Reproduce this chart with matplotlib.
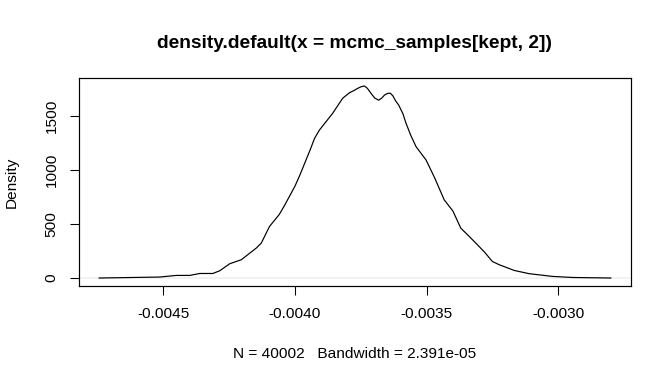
import numpy as np
from matplotlib import pyplot as plt

plt.rcParams['font.family'] = ['Liberation Sans', 'DejaVu Sans']

# density curve (x = sample value, y = density)
xs = [-0.004744, -0.004514, -0.004451, -0.004400, -0.004362, -0.004312,
      -0.004286, -0.004248, -0.004204, -0.004147, -0.004128, -0.004097,
      -0.004059, -0.004040, -0.004020, -0.004000, -0.003980, -0.003960,
      -0.003940, -0.003926, -0.003907, -0.003857, -0.003819, -0.003793,
      -0.003775, -0.003762, -0.003748, -0.003736, -0.003725, -0.003711,
      -0.003697, -0.003682, -0.003670, -0.003660, -0.003648, -0.003638,
      -0.003628, -0.003618, -0.003606, -0.003590, -0.003578, -0.003560,
      -0.003540, -0.003520, -0.003502, -0.003470, -0.003433, -0.003400,
      -0.003370, -0.003340, -0.003313, -0.003280, -0.003250, -0.003224,
      -0.003167, -0.003110, -0.003022, -0.002946, -0.002800]
dens = [0, 9, 24, 24, 42, 42,
        67, 132, 169, 277, 323, 476,
        590, 670, 760, 850, 960, 1080,
        1200, 1290, 1369, 1523, 1662, 1714,
        1735, 1754, 1770, 1776, 1755, 1708,
        1665, 1645, 1665, 1692, 1708, 1710,
        1685, 1640, 1600, 1520, 1431, 1320,
        1215, 1150, 1092, 930, 723, 620,
        461, 390, 323, 240, 153, 123,
        70, 40, 15, 5, 0]

xticks = [-0.0045, -0.0040, -0.0035, -0.0030]
xticklabels = ['-0.0045', '-0.0040', '-0.0035', '-0.0030']
yticks = [0, 500, 1000, 1500]

title = 'density.default(x = mcmc_samples[kept, 2])'
xlab = 'N = 40002   Bandwidth = 2.391e-05'

fig = plt.figure(figsize=(7, 4), dpi=96)
ax = fig.add_axes([0.1171, 0.256, 0.9394 - 0.1171, 0.796 - 0.256])

ax.axhline(0, color='#bebebe', lw=0.3, zorder=1)
ax.plot(xs, dens, color='black', lw=0.9, zorder=2)

# R style 4% padding on both axes
xr = max(xs) - min(xs)
ax.set_xlim(min(xs) - 0.04 * xr, max(xs) + 0.04 * xr)
yr = max(dens)
ax.set_ylim(-0.04 * yr, yr * 1.04)

ax.set_xticks(xticks)
ax.set_xticklabels(xticklabels)
ax.set_yticks(yticks)
ax.set_yticklabels([str(v) for v in yticks], rotation=90, va='center')
ax.tick_params(axis='both', direction='out', length=7, width=0.8,
               labelsize=11.5, color='black')
ax.tick_params(axis='x', pad=9)
ax.tick_params(axis='y', pad=8)
for s in ax.spines.values():
    s.set_linewidth(0.9)
    s.set_color('black')

fig.text(0.528, 1 - 43 / 384, title, ha='center', va='center',
         fontsize=14.3, fontweight='bold')
fig.text(0.528, 1 - 354 / 384, xlab, ha='center', va='center', fontsize=11.5)
fig.text(12 / 672, 0.526, 'Density', ha='center', va='center',
         rotation=90, fontsize=11.5)

fig.savefig('out.png', dpi=96)
